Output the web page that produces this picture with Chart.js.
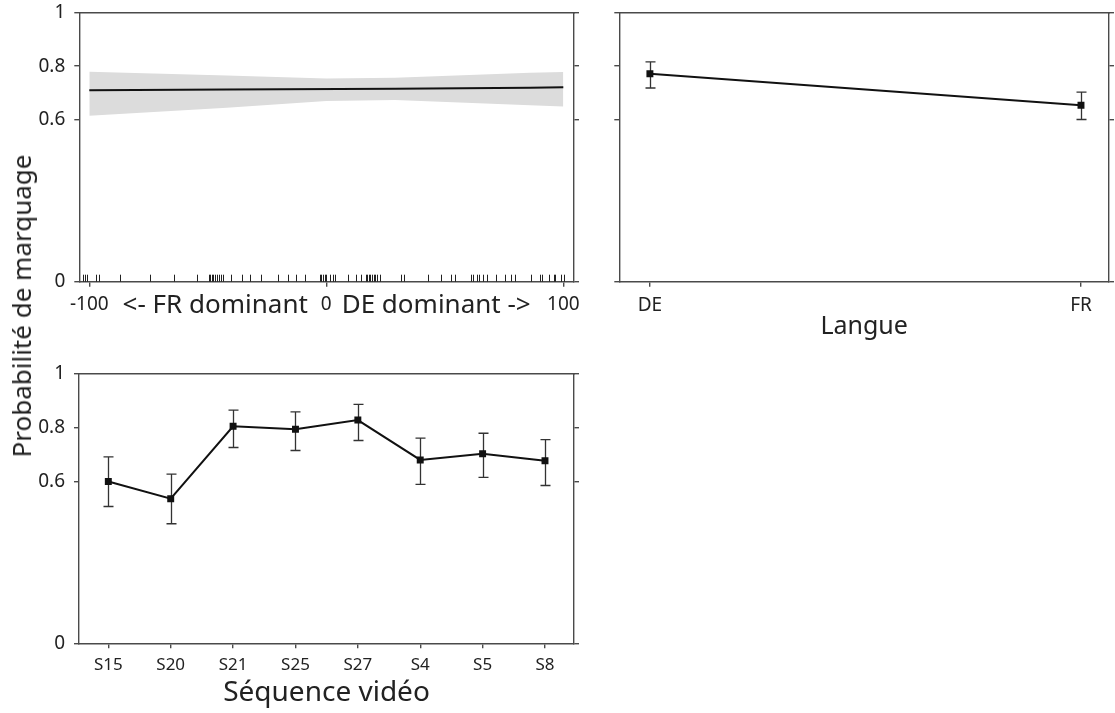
<!DOCTYPE html>
<html>
<head>
<meta charset="utf-8">
<script src="https://cdn.jsdelivr.net/npm/chart.js@4.4.0/dist/chart.umd.min.js"></script>
<style>
  body { margin: 0; background: #fff; width: 1115px; height: 713px; overflow: hidden; position: relative; }
  canvas { position: absolute; }
  #ytitle {
    position: absolute; left: 21px; top: 306px;
    transform: translate(-50%, -50%) rotate(-90deg);
    white-space: nowrap; font-family: 'Noto Sans', sans-serif; font-size: 26px; color: #222;
  }
</style>
</head>
<body>
<canvas id="c1" width="600" height="340" style="left:0;top:0"></canvas>
<canvas id="c2" width="515" height="350" style="left:600px;top:0"></canvas>
<canvas id="c3" width="600" height="353" style="left:0;top:360px"></canvas>
<div id="ytitle">Probabilité de marquage</div>
<script>
const yTicks = [0, 0.6, 0.8, 1];

// dominance (effet continu)
const domTicks = [-100, 0, 100];
const domX = [-100, -42, 29, 86, 100];
const domFit = [0.711, 0.713, 0.716, 0.720, 0.722];
const bandX = [-100, -42, 0, 29, 86, 100];
const bandLow = [0.616, 0.646, 0.671, 0.674, 0.655, 0.650];
const bandHigh = [0.779, 0.765, 0.754, 0.757, 0.776, 0.778];
const rug = [-102.8, -101.7, -101.1, -97.2, -96.1, -87, -74.4, -64.1, -54.5, -49.7, -49, -48.3, -47.6,
  -46.9, -46.2, -45.4, -44.4, -43.4, -40.3, -35.4, -32.3, -27.7, -20.4, -16.2, -12.7, -8.9, -2.8, -2.1,
  -1.4, -0.7, 0, 1.4, 2.8, 3.8, 9.3, 12.4, 14.5, 16.6, 17.2, 17.9, 18.6, 19.3, 20, 20.7, 21.4, 22.8,
  31.6, 32.8, 42.7, 48.6, 52.5, 54.2, 61, 62, 63.4, 64.5, 66.2, 68, 71.8, 75.6, 77.8, 79.6, 86.3,
  90.1, 91, 94.1, 95.9, 96.6, 98.9, 100.4];

// langue
const langues = ['DE', 'FR'];
const langFit = [0.772, 0.655];
const langLow = [0.719, 0.602];
const langHigh = [0.816, 0.704];

// séquences vidéo
const sequences = ['S15', 'S20', 'S21', 'S25', 'S27', 'S4', 'S5', 'S8'];
const seqFit = [0.601, 0.537, 0.806, 0.795, 0.829, 0.681, 0.704, 0.678];
const seqLow = [0.508, 0.444, 0.727, 0.716, 0.753, 0.590, 0.616, 0.586];
const seqHigh = [0.692, 0.628, 0.866, 0.859, 0.887, 0.762, 0.780, 0.756];

const axisColor = '#4a4a4a';
const fontFam = "'Noto Sans', sans-serif";

function xy(xs, ys) {
  return xs.map((x, i) => ({ x: x, y: ys[i] }));
}

// fixed axis size, and no extra room for the end labels
function fixSize(prop, size) {
  return s => {
    s[prop] = size;
    s.paddingTop = 0; s.paddingBottom = 0; s.paddingLeft = 0; s.paddingRight = 0;
  };
}

function makeScales(cfg) {
  return {
    x: {
      type: 'linear', position: 'bottom', min: cfg.xMin, max: cfg.xMax,
      afterBuildTicks: s => { s.ticks = cfg.xTicks.map(v => ({ value: v })); },
      afterFit: fixSize('height', cfg.bottom),
      grid: { drawOnChartArea: false, tickLength: 5, color: axisColor, lineWidth: 1.4 },
      border: { color: axisColor, width: 1.4 },
      ticks: {
        padding: cfg.xPad, color: '#222', maxRotation: 0, autoSkip: false,
        font: { family: fontFam, size: cfg.xFont }, callback: cfg.xLabel
      },
      title: {
        display: true, text: cfg.title, color: '#222',
        font: { family: fontFam, size: cfg.titleSize }, padding: { top: 0, bottom: cfg.titlePad }
      }
    },
    y: {
      type: 'linear', position: 'left', min: 0, max: 1,
      afterBuildTicks: s => { s.ticks = yTicks.map(v => ({ value: v })); },
      afterFit: fixSize('width', cfg.left),
      grid: { drawOnChartArea: false, tickLength: 5, color: axisColor, lineWidth: 1.4 },
      border: { color: axisColor, width: 1.4 },
      ticks: {
        display: cfg.yLabels, padding: 9, color: '#222',
        font: { family: fontFam, size: 19 }, callback: v => String(v)
      }
    },
    top: {
      type: 'linear', position: 'top', min: cfg.xMin, max: cfg.xMax,
      afterFit: fixSize('height', cfg.top),
      grid: { display: false },
      border: { color: axisColor, width: 1.4 },
      ticks: { display: false }
    },
    right: {
      type: 'linear', position: 'right', min: 0, max: 1,
      afterBuildTicks: s => { s.ticks = yTicks.map(v => ({ value: v })); },
      afterFit: fixSize('width', cfg.right),
      grid: { drawOnChartArea: false, tickLength: 5, color: axisColor, lineWidth: 1.4 },
      border: { color: axisColor, width: 1.4 },
      ticks: { display: false }
    }
  };
}

// error bars drawn from the scales
const errorBars = {
  id: 'errorBars',
  beforeDatasetsDraw(chart, args, opts) {
    if (!opts.low) return;
    const { ctx, scales: { x, y } } = chart;
    ctx.save();
    ctx.strokeStyle = '#333';
    ctx.lineWidth = 1.3;
    opts.low.forEach((lo, i) => {
      const px = Math.round(x.getPixelForValue(i)) + 0.5;
      const y1 = y.getPixelForValue(lo);
      const y2 = y.getPixelForValue(opts.high[i]);
      ctx.beginPath();
      ctx.moveTo(px, y1); ctx.lineTo(px, y2);
      ctx.moveTo(px - 5, y1); ctx.lineTo(px + 5, y1);
      ctx.moveTo(px - 5, y2); ctx.lineTo(px + 5, y2);
      ctx.stroke();
    });
    ctx.restore();
  }
};

// rug along the x axis
const rugPlot = {
  id: 'rugPlot',
  afterDatasetsDraw(chart, args, opts) {
    if (!opts.values) return;
    const { ctx, chartArea, scales: { x } } = chart;
    ctx.save();
    ctx.strokeStyle = '#222';
    ctx.lineWidth = 1;
    opts.values.forEach(v => {
      const px = Math.round(x.getPixelForValue(v)) + 0.5;
      ctx.beginPath();
      ctx.moveTo(px, chartArea.bottom);
      ctx.lineTo(px, chartArea.bottom - 7);
      ctx.stroke();
    });
    ctx.restore();
  }
};

const common = {
  responsive: false,
  animation: false,
  devicePixelRatio: 1,
  layout: { padding: 0 },
  plugins: { legend: { display: false }, tooltip: { enabled: false } }
};

// Chart 1: dominance (line first so it sits above the band)
new Chart(document.getElementById('c1'), {
  type: 'line',
  data: {
    datasets: [
      { data: xy(domX, domFit), borderColor: '#111', borderWidth: 2, pointRadius: 0, fill: false },
      { data: xy(bandX, bandHigh), borderWidth: 0, pointRadius: 0, fill: '+1', backgroundColor: '#dcdcdc' },
      { data: xy(bandX, bandLow), borderWidth: 0, pointRadius: 0, fill: false }
    ]
  },
  options: {
    ...common,
    scales: makeScales({
      xMin: -104.22, xMax: 104.51, xTicks: domTicks, xLabel: v => String(v), xFont: 19, xPad: 6,
      left: 79.3, right: 26, top: 12.3, bottom: 58.3, yLabels: true,
      title: '<- FR dominant     DE dominant ->', titleSize: 26, titlePad: 18.4
    }),
    plugins: { ...common.plugins, rugPlot: { values: rug } }
  },
  plugins: [rugPlot]
});

// Chart 2: langue
new Chart(document.getElementById('c2'), {
  type: 'line',
  data: {
    datasets: [{
      data: xy(langues.map((l, i) => i), langFit), borderColor: '#111', borderWidth: 2,
      pointStyle: 'rect', pointRadius: 3.5, pointBackgroundColor: '#111', pointBorderColor: '#111'
    }]
  },
  options: {
    ...common,
    scales: makeScales({
      xMin: -0.071, xMax: 1.065, xTicks: [0, 1], xLabel: v => langues[v], xFont: 19, xPad: 7,
      left: 19.3, right: 1.5, top: 12.3, bottom: 68.3, yLabels: false,
      title: 'Langue', titleSize: 25, titlePad: 8
    }),
    plugins: { ...common.plugins, errorBars: { low: langLow, high: langHigh } }
  },
  plugins: [errorBars]
});

// Chart 3: séquence vidéo
new Chart(document.getElementById('c3'), {
  type: 'line',
  data: {
    datasets: [{
      data: xy(sequences.map((s, i) => i), seqFit), borderColor: '#111', borderWidth: 2,
      pointStyle: 'rect', pointRadius: 3.5, pointBackgroundColor: '#111', pointBorderColor: '#111'
    }]
  },
  options: {
    ...common,
    scales: makeScales({
      xMin: -0.47, xMax: 7.465, xTicks: sequences.map((s, i) => i), xLabel: v => sequences[v], xFont: 17, xPad: 7,
      left: 79, right: 26, top: 14, bottom: 69.7, yLabels: true,
      title: 'Séquence vidéo', titleSize: 28, titlePad: 3.2
    }),
    plugins: { ...common.plugins, errorBars: { low: seqLow, high: seqHigh } }
  },
  plugins: [errorBars]
});
</script>
</body>
</html>
